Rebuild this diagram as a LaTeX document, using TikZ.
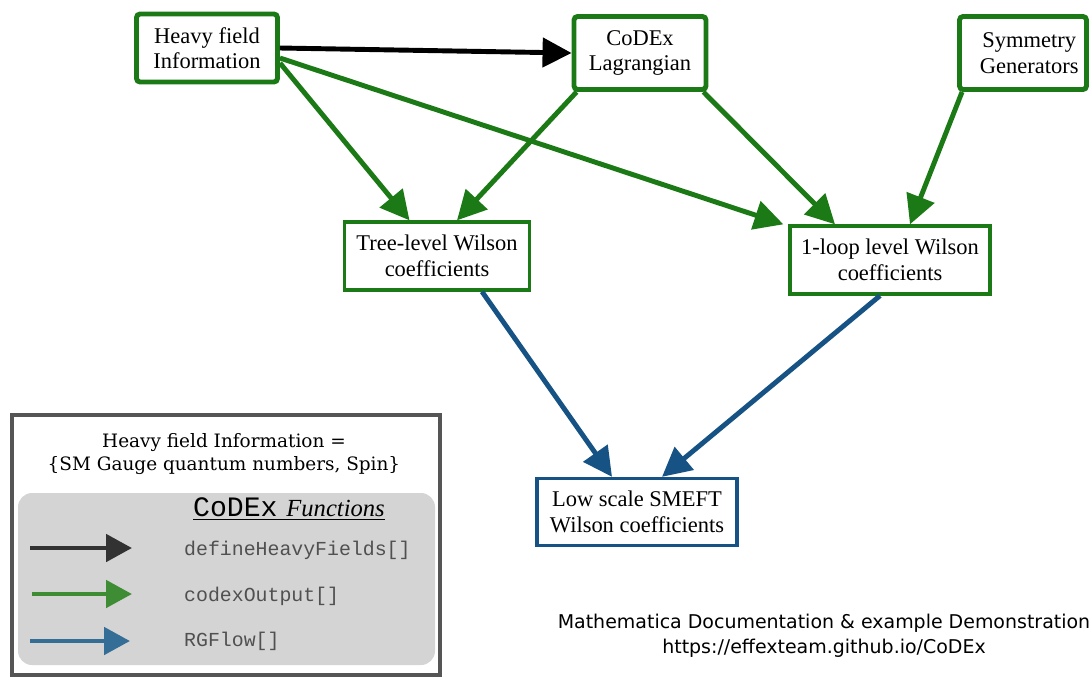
\documentclass[tikz,border=0pt]{standalone}
\usepackage{fontspec}
\setmainfont{Liberation Serif}
\setmonofont{Liberation Mono}
\newfontfamily\legendserif{DejaVu Serif}
\newfontfamily\notefont{DejaVu Sans}
\usetikzlibrary{arrows.meta,positioning}

\definecolor{codexgreen}{RGB}{28,122,22}
\definecolor{rgblue}{RGB}{22,82,132}
\definecolor{legblack}{RGB}{50,50,50}
\definecolor{leggreen}{RGB}{62,140,52}
\definecolor{legblue}{RGB}{52,110,150}
\definecolor{legframe}{RGB}{85,85,85}
\definecolor{legfill}{RGB}{212,212,212}
\definecolor{legtext}{RGB}{80,80,80}

\begin{document}
\begin{tikzpicture}[
  x=0.02cm, y=-0.02cm,
  inputbox/.style={draw=codexgreen, line width=2.8pt, rounded corners=2pt, fill=white, align=center, font=\fontsize{12.8}{14.5}\selectfont},
  wilson/.style={draw=codexgreen, line width=1.9pt, fill=white, align=center, minimum height=1.36cm, font=\fontsize{12.8}{14.5}\selectfont},
  arrow/.style={-{Triangle[length=5.8mm,width=5.8mm]}, line width=2.8pt},
  legarrow/.style={-{Triangle[length=5.2mm,width=5.4mm]}, line width=2.8pt},
  fname/.style={anchor=west, text=legtext, font=\ttfamily\fontsize{11.3}{13}\selectfont}
]
\useasboundingbox (0,0) rectangle (1089,677);

% input boxes
\node[inputbox, minimum width=2.82cm, minimum height=1.36cm] (heavy) at (207,48) {Heavy field\\Information};
\node[inputbox, minimum width=2.64cm, minimum height=1.46cm] (lag) at (640,53) {CoDEx\\Lagrangian};
\node[inputbox, minimum width=2.54cm, minimum height=1.46cm] (sym) at (1023,53) {\hspace*{0.25cm}Symmetry\\\hspace*{0.25cm}Generators};

% Wilson coefficients
\node[wilson, minimum width=3.7cm] (tree) at (437,256) {Tree-level Wilson\\coefficients};
\node[wilson, minimum width=4cm] (loop) at (890,260) {1-loop level Wilson\\coefficients};
\node[wilson, draw=rgblue, minimum width=4cm, minimum height=1.34cm] (low) at (637,512) {Low scale SMEFT\\Wilson coefficients};

% defineHeavyFields
\draw[arrow, black] (heavy.east) -- (lag.west);
% codexOutput
\draw[arrow, codexgreen] ([yshift=-0.3cm]heavy.east) -- ([xshift=-0.55cm]tree.north);
\draw[arrow, codexgreen] ([yshift=-0.2cm]heavy.east) -- ([xshift=-0.1cm]loop.north west);
\draw[arrow, codexgreen] ([xshift=0.1cm]lag.south west) -- ([xshift=0.4cm]tree.north);
\draw[arrow, codexgreen] ([xshift=-0.1cm]lag.south east) -- ([xshift=-1.1cm]loop.north);
\draw[arrow, codexgreen] ([xshift=0.1cm]sym.south west) -- ([xshift=0.4cm]loop.north);
% RGFlow
\draw[arrow, rgblue] ([xshift=0.9cm]tree.south) -- ([xshift=-0.5cm]low.north);
\draw[arrow, rgblue] ([xshift=-0.2cm]loop.south) -- ([xshift=0.5cm]low.north);

% legend
\draw[legframe, line width=1.8pt] (12,415) rectangle (440,675);
\fill[legfill, rounded corners=8pt] (18,493) rectangle (435,665);
\node[align=center, font=\legendserif\fontsize{10.5}{13.6}\selectfont] (hfinfo) at (224,454) {Heavy field Information =\\\{SM Gauge quantum numbers, Spin\}};
\node (codexfun) at (289,509) {\underline{{\ttfamily\fontsize{16}{18}\selectfont CoDEx}~~{\itshape\fontsize{14}{16}\selectfont Functions}}};
\node[fname] (defhf) at (178,550) {defineHeavyFields[]};
\node[fname] (cout) at (178,596) {codexOutput[]};
\node[fname] (rgf) at (178,641) {RGFlow[]};
\coordinate (kblack) at (30,548);
\coordinate (kgreen) at (32,594);
\coordinate (kblue) at (30,641);
\draw[legarrow, legblack] (kblack) -- ++(102,0);
\draw[legarrow, leggreen] (kgreen) -- ++(100,0);
\draw[legarrow, legblue] (kblue) -- ++(100,0);

% note
\node[align=center, font=\notefont\fontsize{10.8}{14}\selectfont] (note) at (824,636) {Mathematica Documentation \& example Demonstration\\https://effexteam.github.io/CoDEx};
\end{tikzpicture}
\end{document}
